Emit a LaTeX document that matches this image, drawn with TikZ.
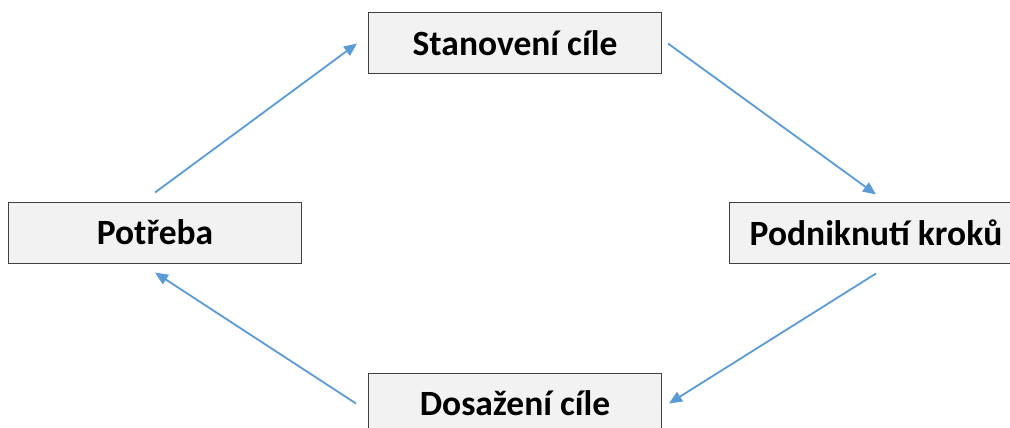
\documentclass[tikz,border=0pt]{standalone}
\usepackage{fontspec}
\setmainfont{Carlito}
\usetikzlibrary{arrows.meta}
\definecolor{stepblue}{RGB}{91,155,213}
\definecolor{boxgray}{RGB}{242,242,242}
\definecolor{edgegray}{RGB}{64,64,64}

\begin{document}
\begin{tikzpicture}[x=1pt,y=-1pt,
  stage/.style={draw=edgegray,fill=boxgray,line width=1pt,minimum width=293pt,
    minimum height=61pt,inner sep=0pt,font=\fontsize{35.5}{42}\selectfont\bfseries},
  flow/.style={stepblue,line width=1.8pt,-{Triangle[length=13pt,width=11pt]}}]
  \clip (0,0) rectangle (1010,428);
  \node[stage] (stan) at (515,43.5) {Stanovení cíle};
  \node[stage] (potr) at (155,232.5) {Potřeba};
  \node[stage] (podn) at (876,232.5) {Podniknutí kroků};
  \node[stage] (dosa) at (515,403.5) {Dosažení cíle};
  \draw[flow] ([yshift=9pt]potr.north) -- ([xshift=-11pt]stan.west);
  \draw[flow] ([xshift=6pt]stan.east) -- ([yshift=7pt]podn.north);
  \draw[flow] ([yshift=-10pt]podn.south) -- ([xshift=7pt]dosa.east);
  \draw[flow] ([xshift=-12pt]dosa.west) -- ([yshift=-9pt]potr.south);
\end{tikzpicture}
\end{document}
